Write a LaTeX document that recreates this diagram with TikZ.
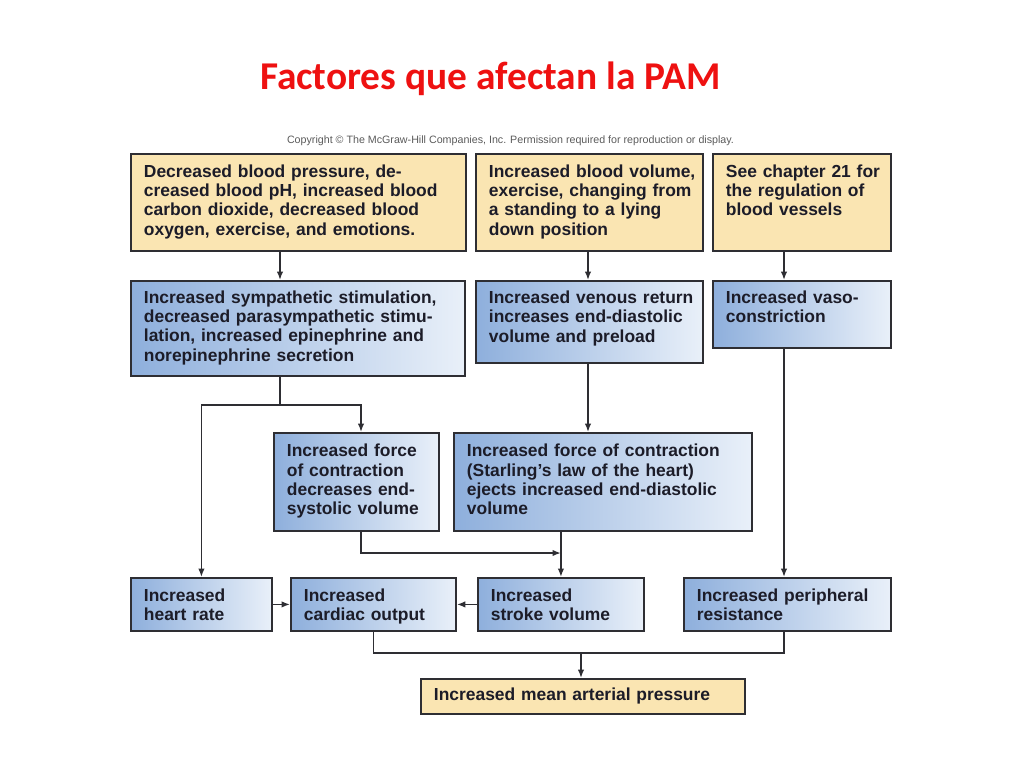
\documentclass[tikz,border=0pt]{standalone}
\usepackage{fontspec}
\usetikzlibrary{arrows.meta,positioning}
\setmainfont{Liberation Sans}
\newfontfamily\titlefont{Carlito}
\definecolor{ink}{HTML}{1C1C28}
\definecolor{frame}{HTML}{2E2E33}
\definecolor{wheat}{HTML}{FAE5B2}
\definecolor{steel}{HTML}{8EAFDC}
\definecolor{mist}{HTML}{E9F0F9}
\definecolor{title}{HTML}{EE1111}
\definecolor{note}{HTML}{5A5A5A}

\begin{document}
\begin{tikzpicture}[x=0.025cm,y=-0.025cm,>={Latex[length=6pt,width=4.6pt]},
      base/.style={draw=frame,line width=1.3pt,anchor=north west,align=left,
                   inner xsep=0.15cm,inner ysep=4pt,text=ink,
                   execute at begin node={\leftskip=0.175cm\strut},
                   execute at end node={\strut},
                   font=\bfseries\fontsize{12.4}{13.7}\selectfont},
      lift/.style={execute at end node={\strut\endgraf\vspace*{#1}}},
      cause/.style={base,fill=wheat},
      effect/.style={base,left color=steel,right color=mist},
      flow/.style={->,line width=1.1pt,draw=frame},
      link/.style={line width=1.1pt,draw=frame}]
    \useasboundingbox (0,0) rectangle (1024,768);
    \node[anchor=base,font=\titlefont\bfseries\fontsize{28}{30}\selectfont,text=title] (head) at (490.5,90) {Factores que afectan la PAM};
    \node[font=\fontsize{7.6}{9}\selectfont,text=note] (copy) at (510.5,141) {Copyright \textcopyright\ The McGraw-Hill Companies, Inc. Permission required for reproduction or display.};
    % column guides
    \coordinate (c1) at (280,0);
    \coordinate (c2) at (588,0);
    \coordinate (c3) at (784,0);
    \coordinate (cf) at (361,0);
    % first row: causes
    \node[cause,text width=8.075cm,minimum height=2.425cm] (press) at (130,153) {Decreased blood pressure, de-\\creased blood pH, increased blood\\carbon dioxide, decreased blood\\oxygen, exercise, and emotions.};
    \node[cause,text width=5.375cm,minimum height=2.425cm] (volume) at (475,153) {Increased blood volume,\\exercise, changing from\\a standing to a lying\\down position};
    \node[cause,lift=0.5cm,text width=4.15cm,minimum height=2.425cm] (vessels) at (712,153) {See chapter 21 for\\the regulation of\\blood vessels};
    % second row
    \node[effect,text width=8.05cm,minimum height=2.375cm] (symp) at (130,280) {Increased sympathetic stimulation,\\decreased parasympathetic stimu-\\lation, increased epinephrine and\\norepinephrine secretion};
    \node[effect,lift=0.15cm,text width=5.375cm,minimum height=2.05cm] (venous) at (475,280) {Increased venous return\\increases end-diastolic\\volume and preload};
    \node[effect,lift=0.25cm,text width=4.15cm,minimum height=1.675cm] (vaso) at (712,280) {Increased vaso-\\constriction};
    \draw[flow] (press.south -| c1) -- (symp.north -| c1);
    \draw[flow] (volume.south -| c2) -- (venous.north -| c2);
    \draw[flow] (vessels.south -| c3) -- (vaso.north -| c3);
    % third row
    \node[effect,text width=3.825cm,minimum height=2.45cm] (force) at (273,432) {Increased force\\of contraction\\decreases end-\\systolic volume};
    \node[effect,text width=7.15cm,minimum height=2.45cm] (starling) at (453,432) {Increased force of contraction\\(Starling's law of the heart)\\ejects increased end-diastolic\\volume};
    \draw[flow] (venous.south -| c2) -- (starling.north -| c2);
    % fourth row
    \node[effect,lift=-0.15cm,text width=3.225cm,minimum height=1.325cm] (rate) at (130,577) {Increased\\heart rate};
    \node[effect,lift=-0.15cm,text width=3.825cm,minimum height=1.325cm] (output) at (290,577) {Increased\\cardiac output};
    \node[effect,lift=-0.15cm,text width=3.85cm,minimum height=1.325cm] (stroke) at (477,577) {Increased\\stroke volume};
    \node[effect,lift=-0.15cm,text width=4.875cm,minimum height=1.325cm] (resist) at (683,577) {Increased peripheral\\resistance};
    \coordinate (split) at (280,405);
    \draw[link] (symp.south -| c1) -- (split);
    \draw[flow] (split) -| (rate.north);
    \draw[flow] (split) -| (force.north -| cf);
    \draw[flow] (force.south -| cf) |- (stroke.north |- 0,553);
    \draw[flow] (starling.south -| stroke.north) -- (stroke.north);
    \draw[flow] (vaso.south -| c3) -- (resist.north -| c3);
    \draw[flow] (rate.east) -- (output.west);
    \draw[flow] (stroke.west) -- (output.east);
    % result
    \node[cause,text width=7.8cm,minimum height=0.875cm,inner ysep=2pt] (map) at (420,678) {Increased mean arterial pressure};
    \coordinate (merge) at (581,653);
    \draw[link] (output.south) |- (merge) -| (resist.south -| c3);
    \draw[flow] (merge) -- (map.north -| merge);
\end{tikzpicture}
\end{document}
